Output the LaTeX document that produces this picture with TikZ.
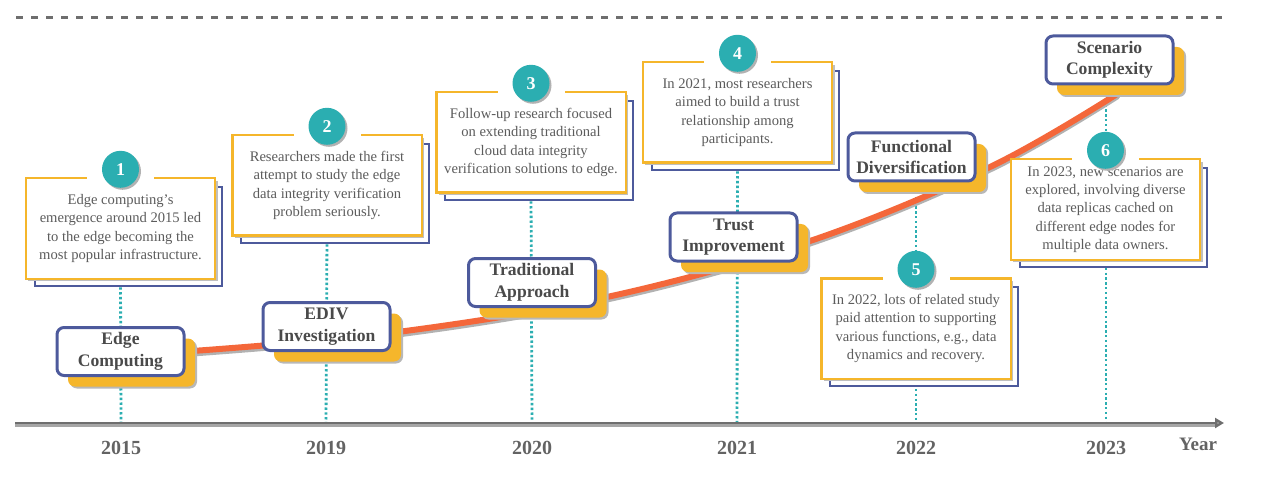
\documentclass[tikz,border=0pt]{standalone}
\usepackage{fontspec}
\setmainfont{Liberation Serif}
\usetikzlibrary{shadows,calc,arrows.meta}
\definecolor{yel}{HTML}{F5B62B}
\definecolor{bluebd}{HTML}{4D5A9C}
\definecolor{tealc}{HTML}{2BAEB1}
\definecolor{orng}{HTML}{F4673A}
\definecolor{txtgray}{HTML}{4A4A4A}
\definecolor{axisgray}{HTML}{6E6E6E}
\pgfdeclarelayer{bgg}
\pgfdeclarelayer{bg}
\pgfsetlayers{bgg,bg,main}
\tikzset{
  eventbox/.style={draw=bluebd, line width=3pt, fill=white, rounded corners=7pt,
    minimum width=127pt, minimum height=48pt, align=center, inner sep=1pt,
    font=\fontsize{17.6}{21.5}\selectfont\bfseries, text=txtgray,
    general shadow={fill=black!28, shadow xshift=13pt, shadow yshift=-13pt},
    general shadow={fill=yel, shadow xshift=11pt, shadow yshift=-11pt}},
  infobox/.style={fill=white, minimum width=187pt, minimum height=98pt,
    inner sep=0pt, align=center, font=\fontsize{14.6}{18.2}\selectfont, text=txtgray!90},
  numcirc/.style={circle, fill=tealc, minimum size=37pt, inner sep=0pt,
    font=\fontsize{18}{18}\selectfont\bfseries, text=white,
    general shadow={fill=black!30, shadow xshift=2pt, shadow yshift=-2pt}},
  yearlab/.style={font=\fontsize{20}{20}\selectfont\bfseries, text=axisgray!90!black},
  dotline/.style={tealc, line width=2.8pt, dash pattern=on 2.4pt off 2.4pt},
  yframe/.style={yel, line width=4pt},
  bframe/.style={bluebd, line width=2.2pt, fill=white},
}
\newcommand\infobox[5]{%
  \node[infobox] (#1) at (#2,#3) {#5};
  \node[numcirc] (c#1) at ($(#1.north)+(0,-10)$) {#4};
  \begin{pgfonlayer}{bg}
    \draw[bframe] ($(#1.north west)+(8,8)$) rectangle ($(#1.south east)+(8,8)$);
    \fill[white] (#1.north west) rectangle (#1.south east);
    \draw[black!25, line width=1.8pt] ($(#1.north)+(-33.5,2.5)$) -- ($(#1.north west)+(2.5,2.5)$) -- ($(#1.south west)+(2.5,2.5)$) -- ($(#1.south east)+(2.5,2.5)$) -- ($(#1.north east)+(2.5,2.5)$) -- ($(#1.north)+(33.5,2.5)$);
    \draw[yframe] ($(#1.north)+(-33.5,0)$) -- (#1.north west) -- (#1.south west) -- (#1.south east) -- (#1.north east) -- ($(#1.north)+(33.5,0)$);
  \end{pgfonlayer}
}
\begin{document}
\begin{tikzpicture}[x=1pt,y=-1pt]
\useasboundingbox (0,0) rectangle (1269,489);
% top dashed line
\coordinate (dl) at (16,17.5);
\coordinate (dr) at (1222,17.5);
\draw[axisgray, line width=3pt, dash pattern=on 7pt off 8pt] (dl) -- (dr);
% axis
\coordinate (axl) at (15,423);
\coordinate (axr) at (1224,423);
\draw[black!35, line width=2.6pt] ($(axl)+(0,2.4)$) -- ($(axr)+(-8,2.4)$);
\draw[axisgray, line width=2.8pt, -{Triangle[length=9pt,width=10pt,fill=black!35]}] (axl) -- (axr);
% event boxes
\node[eventbox] (e1) at (120.5,351.5) {Edge\\Computing};
\node[eventbox] (e2) at (326.5,326.5) {EDIV\\Investigation};
\node[eventbox] (e3) at (532,282.5) {Traditional\\Approach};
\node[eventbox] (e4) at (733.5,237) {Trust\\Improvement};
\node[eventbox] (e5) at (911.5,157) {Functional\\Diversification};
\node[eventbox] (e6) at (1109.5,60) {Scenario\\Complexity};
% info boxes
\infobox{t1}{120.5}{228.5}{1}{Edge computing’s\\emergence around 2015 led\\to the edge becoming the\\most popular infrastructure.}
\infobox{t2}{327}{185.5}{2}{Researchers made the first\\attempt to study the edge\\data integrity verification\\problem seriously.}
\infobox{t3}{531}{142.5}{3}{Follow-up research focused\\on extending traditional\\cloud data integrity\\verification solutions to edge.}
\infobox{t4}{737.5}{112.5}{4}{In 2021, most researchers\\aimed to build a trust\\relationship among\\participants.}
\infobox{t5}{916}{328.5}{5}{In 2022, lots of related study\\paid attention to supporting\\various functions, e.g., data\\dynamics and recovery.}
\infobox{t6}{1105.5}{209.5}{6}{In 2023, new scenarios are\\explored, involving diverse\\data replicas cached on\\different edge nodes for\\multiple data owners.}
% years
\node[yearlab] (y1) at (121,448) {2015};
\node[yearlab] (y2) at (326,448) {2019};
\node[yearlab] (y3) at (532,448) {2020};
\node[yearlab] (y4) at (737,448) {2021};
\node[yearlab] (y5) at (916,448) {2022};
\node[yearlab] (y6) at (1106,448) {2023};
\node[font=\fontsize{19}{19}\selectfont\bfseries, text=axisgray!90!black] (yr) at (1198,444) {Year};
% background: dotted lines and curve
\begin{pgfonlayer}{bgg}
  \draw[dotline] (ct1 |- t1.south) -- (y1 |- axl);
  \draw[dotline] (ct2 |- t2.south) -- (y2 |- axl);
  \draw[dotline] (ct3 |- t3.south) -- (y3 |- axl);
  \draw[dotline] (ct4 |- t4.south) -- (y4 |- axl);
  \draw[dotline] (y5 |- e5.south) -- (y5 |- axl);
  \draw[dotline] (y6 |- e6.south) -- (y6 |- axl);
  \coordinate (k1) at (390,333);
  \coordinate (k2) at (607,297);
  \coordinate (k3) at (810,241);
  \coordinate (k4) at (990,167);
  \coordinate (k5) at (1117,94);
  \draw[black!30, line width=6pt, line cap=round] plot[smooth, tension=0.6] coordinates {($(e1.east)+(0,2.5)$) ($(k1)+(0,2.5)$) ($(k2)+(0,2.5)$) ($(k3)+(0,2.5)$) ($(k4)+(0,2.5)$) ($(k5)+(0,2.5)$)};
  \draw[orng, line width=6pt, line cap=round] plot[smooth, tension=0.6] coordinates {(e1.east) (k1) (k2) (k3) (k4) (k5)};
\end{pgfonlayer}
\end{tikzpicture}
\end{document}
